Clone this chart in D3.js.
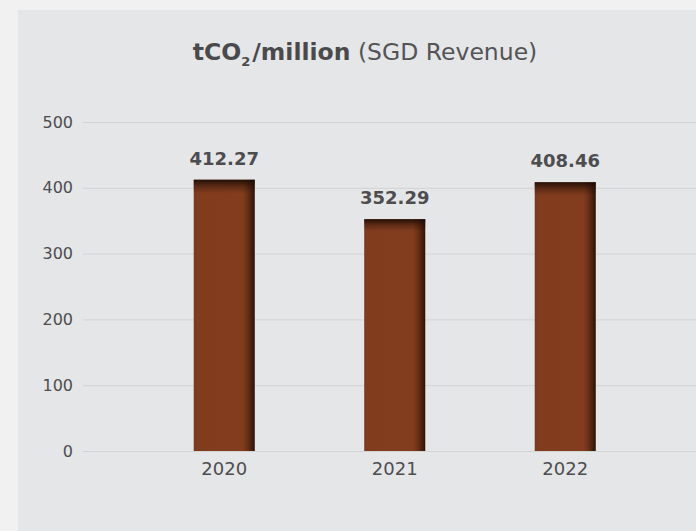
<!DOCTYPE html>
<html>
<head>
<meta charset="utf-8">
<script src="https://cdn.jsdelivr.net/npm/d3@7/dist/d3.min.js"></script>
<style>
  html, body { margin: 0; padding: 0; background: #f1f1f1; }
  svg { display: block; }
</style>
</head>
<body>
<svg id="chart" width="696" height="531"></svg>
<script>
const categories = ["2020", "2021", "2022"];
const values = [412.27, 352.29, 408.46];
const yTicks = [0, 100, 200, 300, 400, 500];
const valueLabels = ["412.27", "352.29", "408.46"];

const W = 696, H = 531;
const svg = d3.select("#chart");
const FONT = "'DejaVu Sans', sans-serif";
const TEXT = "#4d4d4f";

const defs = svg.append("defs");
const hg = defs.append("linearGradient").attr("id", "barH").attr("x1", 0).attr("x2", 1).attr("y1", 0).attr("y2", 0);
[[0, "#7a381b"], [0.05, "#813c1e"], [0.8, "#823d1e"], [0.88, "#6a3016"], [0.95, "#45200d"], [1, "#2c1207"]]
  .forEach(([o, c]) => hg.append("stop").attr("offset", o).attr("stop-color", c));
const vg = defs.append("linearGradient").attr("id", "barV").attr("x1", 0).attr("x2", 0).attr("y1", 0).attr("y2", 1);
[[0, "#1a0a04", 0.9], [0.025, "#1a0a04", 0.35], [0.05, "#1a0a04", 0]]
  .forEach(([o, c, a]) => vg.append("stop").attr("offset", o).attr("stop-color", c).attr("stop-opacity", a));

svg.append("rect").attr("width", W).attr("height", H).attr("fill", "#f1f1f1");
svg.append("rect").attr("x", 18).attr("y", 10).attr("width", W - 18).attr("height", H - 10).attr("fill", "#e5e6e8");

const y = d3.scaleLinear().domain([0, 500]).range([451, 122]);
const x = d3.scaleBand().domain(categories).range([139, 650.5]).paddingInner(0.642).paddingOuter(0.321);

// y axis with gridlines
const gy = svg.append("g").attr("transform", "translate(83,0)")
  .call(d3.axisLeft(y).tickValues(yTicks).tickSize(-(W - 83)).tickPadding(10).tickFormat(d3.format("d")));
gy.select(".domain").remove();
gy.selectAll(".tick line").attr("stroke", "#d2d3d5").attr("stroke-width", 1);
gy.selectAll(".tick text").attr("fill", TEXT).style("font-family", FONT).style("font-size", "16px");

// x axis
const gx = svg.append("g").attr("transform", "translate(0,451)")
  .call(d3.axisBottom(x).tickSize(0).tickPadding(11));
gx.select(".domain").remove();
gx.selectAll(".tick text").attr("fill", TEXT).style("font-family", FONT).style("font-size", "18px");

// bars
const bars = svg.append("g").selectAll("g").data(categories).join("g");
bars.append("rect")
  .attr("x", d => x(d)).attr("width", x.bandwidth())
  .attr("y", (d, i) => y(values[i])).attr("height", (d, i) => y(0) - y(values[i]))
  .attr("fill", "url(#barH)");
bars.append("rect")
  .attr("x", d => x(d)).attr("width", x.bandwidth())
  .attr("y", (d, i) => y(values[i])).attr("height", (d, i) => y(0) - y(values[i]))
  .attr("fill", "url(#barV)");

// value labels
svg.append("g").selectAll("text").data(categories).join("text")
  .attr("x", d => x(d) + x.bandwidth() / 2)
  .attr("y", (d, i) => y(values[i]) - 15)
  .attr("text-anchor", "middle")
  .attr("fill", TEXT)
  .style("font-family", FONT).style("font-size", "18px").style("font-weight", "bold")
  .text((d, i) => valueLabels[i]);

// title
const title = svg.append("text").attr("x", 365).attr("y", 60).attr("text-anchor", "middle")
  .attr("fill", "#4a4a4c").style("font-family", FONT).style("font-size", "23.5px");
title.append("tspan").style("font-weight", "bold").text("tCO");
title.append("tspan").style("font-weight", "bold").style("font-size", "13px").attr("dy", 6).text("2");
title.append("tspan").style("font-weight", "bold").attr("dy", -6).attr("dx", 2).text("/million");
title.append("tspan").attr("fill", "#545456").text(" (SGD Revenue)");
</script>
</body>
</html>
